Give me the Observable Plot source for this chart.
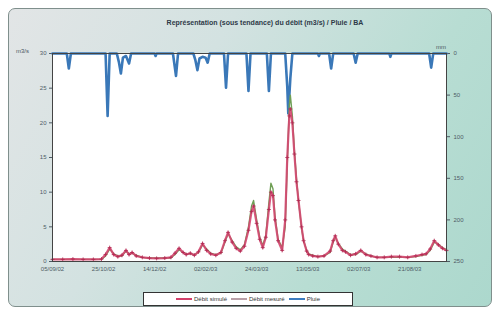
<!DOCTYPE html>
<html><head><meta charset="utf-8">
<script src="https://cdn.jsdelivr.net/npm/d3@7"></script>
<script src="https://cdn.jsdelivr.net/npm/@observablehq/plot@0.6"></script>
<style>
body{margin:0;background:#fff;}
#wrap{position:relative;width:498px;height:312px;font-family:"Liberation Sans",Arial,sans-serif;overflow:hidden;}
#frame{position:absolute;left:8px;top:8px;width:482px;height:297px;border:1px solid #7f8f8c;border-radius:7px;
 background:linear-gradient(120deg,#e2e5e6 0%,#d3e2e1 35%,#b8ddd3 70%,#acd8cd 100%);}
#title{position:absolute;top:19px;left:30px;width:470px;text-align:center;font-size:7px;font-weight:bold;color:#2e3a48;}
.unit{position:absolute;font-size:6px;color:#4a5660;}
#legend{position:absolute;left:143px;top:292px;width:208px;height:12px;border:1px solid #333;background:#fff;
 display:flex;align-items:center;justify-content:center;gap:4px;font-size:6px;color:#333;}
.sw{display:inline-block;width:16px;height:2px;margin-right:2px;vertical-align:middle;}
#chart{position:absolute;left:0;top:0;}
</style></head>
<body>
<div id="wrap">
 <div id="frame"></div>
 <div id="title">Représentation (sous tendance) du débit (m3/s) / Pluie / BA</div>
 <div class="unit" style="left:16px;top:48px;">m3/s</div>
 <div class="unit" style="left:436px;top:44px;">mm</div>
 <div id="chart"></div>
 <div id="legend"><span><span class="sw" style="background:#d2406a"></span>Débit simulé</span><span><span class="sw" style="background:#b9a0a8"></span>Débit mesuré</span><span><span class="sw" style="background:#3c7cc0"></span>Pluie</span></div>
</div>
<script>
// Day offsets from start date
const startDate = "2002-09-05";
const spanDays = 386;
const tickDays = [0, 50, 100, 150, 200, 250, 300, 350];
const leftTicks = [0, 5, 10, 15, 20, 25, 30];
const rightTicks = [0, 50, 100, 150, 200, 250];

const flowDays = [0,10,20,30,40,48,52,56,60,64,68,72,75,78,82,88,95,102,110,116,120,124,128,131,135,139,143,147,151,155,160,165,169,172,176,180,184,188,192,195,197,200,203,206,209,212,214,216,218,221,225,228,230,232,233,235,237,239,241,244,246,249,251,255,260,266,272,275,277,280,284,287,292,297,302,307,312,318,325,332,340,348,356,362,366,370,374,378,382,386];
const flowSim = [0.3,0.3,0.35,0.3,0.3,0.35,1.0,2.0,1.0,0.7,0.9,1.6,1.0,1.3,0.8,0.6,0.5,0.45,0.5,0.6,1.2,1.9,1.3,1.0,1.2,0.9,1.4,2.6,1.6,1.1,0.9,1.3,3.0,4.2,2.8,1.9,1.5,2.2,4.5,7.2,8.0,5.5,3.2,2.0,3.5,7.5,10.0,9.5,6.0,3.0,1.6,6.0,15.0,21.0,22.0,20.0,15.5,11.5,8.8,5.0,3.0,1.5,1.0,0.8,0.7,0.8,1.5,3.0,3.7,2.5,1.6,1.4,0.9,1.1,1.6,1.0,0.8,0.6,0.6,0.7,0.7,0.6,0.8,1.0,1.1,1.8,3.0,2.4,1.9,1.6];
const flowMeas = [0.3,0.3,0.3,0.3,0.3,0.3,0.8,1.8,1.1,0.8,0.8,1.5,1.1,1.2,0.9,0.6,0.5,0.5,0.5,0.5,1.0,1.7,1.3,1.1,1.1,1.0,1.3,2.4,1.8,1.2,1.0,1.2,2.8,4.0,3.0,2.1,1.7,2.4,5.0,8.0,8.8,6.0,3.5,2.3,3.8,8.5,11.3,10.5,6.5,3.2,2.0,5.0,14.0,22.5,24.0,21.0,16.0,12.0,8.8,4.8,3.0,1.6,1.1,0.9,0.7,0.8,1.3,2.8,3.5,2.6,1.8,1.5,1.0,1.0,1.5,1.1,0.8,0.6,0.6,0.6,0.6,0.6,0.7,0.9,1.0,1.6,2.8,2.5,2.0,1.7];

const rainDays = [0,14,16,18,52,54,56,63,65,67,69,72,75,77,100,101,102,118,121,123,138,140,142,144,147,150,152,154,168,170,172,190,192,194,210,212,214,228,230,231,233,235,260,261,262,271,273,275,295,297,299,330,331,332,369,371,373,386];
const rainMm   = [0,0,18,0,0,75,0,0,10,24,5,3,12,0,0,3,0,0,27,0,0,8,20,6,4,5,11,0,0,41,0,0,45,0,0,45,0,0,40,72,30,0,0,3,0,0,18,0,0,11,0,0,4,0,0,17,0,0];

const t0 = new Date(startDate + "T00:00:00Z");
const dayDate = d => d3.utcDay.offset(t0, d);
// rain plotted against the inverted right-hand axis (0 mm at top, 250 mm at bottom)
const mmToY = mm => 30 - mm * 30 / 250;

const flow = flowDays.map((d, i) => ({date: dayDate(d), sim: flowSim[i], meas: flowMeas[i]}));
const rain = rainDays.map((d, i) => ({date: dayDate(d), y: mmToY(rainMm[i])}));

const chart = Plot.plot({
  width: 498, height: 312,
  marginLeft: 52, marginRight: 52, marginTop: 53, marginBottom: 51,
  style: {background: "transparent", fontSize: "6px", color: "#4f5c66", fontFamily: "Liberation Sans, Arial, sans-serif"},
  x: {type: "utc", domain: [t0, dayDate(spanDays)]},
  y: {domain: [0, 30]},
  marks: [
    Plot.frame({fill: "white"}),
    Plot.axisX({ticks: tickDays.map(dayDate), tickFormat: d3.utcFormat("%d/%m/%y"), tickSize: 0, tickPadding: 5, label: null}),
    Plot.axisY({ticks: leftTicks, tickSize: 3, tickPadding: 3, label: null}),
    Plot.axisY({anchor: "right", ticks: rightTicks.map(mmToY), tickFormat: v => Math.round((30 - v) * 250 / 30), tickSize: 3, tickPadding: 4, label: null}),
    Plot.line(rain, {x: "date", y: "y", stroke: "#3a78b8", strokeWidth: 2.6}),
    Plot.line(flow, {x: "date", y: "meas", stroke: "#6f9f55", strokeWidth: 1.4}),
    Plot.line(flow, {x: "date", y: "sim", stroke: "#d44670", strokeWidth: 2.2, strokeOpacity: 0.9}),
    Plot.dot(flow, {x: "date", y: "sim", r: 1.4, stroke: "#b02850", strokeWidth: 0.8, symbol: "plus"}),
    Plot.frame({stroke: "#444", strokeWidth: 1})
  ]
});
document.getElementById("chart").appendChild(chart);
</script>
</body></html>
